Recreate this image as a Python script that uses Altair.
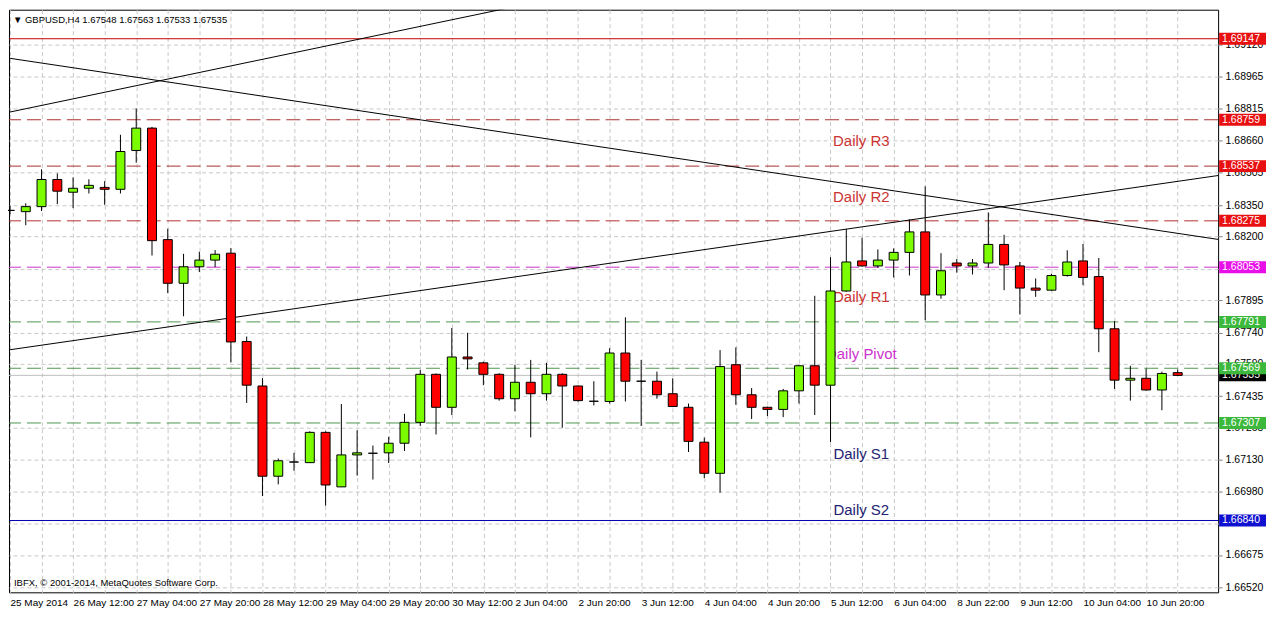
import json
import altair as alt
import pandas as pd

# ---------------- data ----------------
opens = [1.68325, 1.68319, 1.68343, 1.68473, 1.68412, 1.68431, 1.68435, 1.68426, 1.68612, 1.68719,
         1.68185, 1.67976, 1.68055, 1.68087, 1.68120, 1.67697, 1.67484, 1.67052, 1.67120, 1.67117,
         1.67262, 1.67001, 1.67154, 1.67162, 1.67164, 1.67210, 1.67310, 1.67540, 1.67382, 1.67623,
         1.67595, 1.67540, 1.67423, 1.67502, 1.67447, 1.67540, 1.67484, 1.67411, 1.67410, 1.67642,
         1.67507, 1.67507, 1.67447, 1.67382, 1.67215, 1.67066, 1.67586, 1.67442, 1.67382, 1.67372,
         1.67461, 1.67581, 1.67488, 1.67939, 1.68083, 1.68059, 1.68087, 1.68124, 1.68222, 1.67920,
         1.68073, 1.68059, 1.68073, 1.68162, 1.68059, 1.67953, 1.67943, 1.68013, 1.68083, 1.68008,
         1.67758, 1.67512, 1.67521, 1.67465, 1.67548]
highs = [1.68349, 1.68359, 1.68522, 1.68502, 1.68483, 1.68474, 1.68465, 1.68687, 1.68813, 1.68725,
         1.68237, 1.68117, 1.68127, 1.68135, 1.68144, 1.67721, 1.67522, 1.67137, 1.67164, 1.67267,
         1.67267, 1.67398, 1.67272, 1.67199, 1.67241, 1.67351, 1.67561, 1.67544, 1.67762, 1.67739,
         1.67601, 1.67545, 1.67586, 1.67609, 1.67595, 1.67545, 1.67487, 1.67507, 1.67665, 1.67813,
         1.67609, 1.67553, 1.67521, 1.67400, 1.67237, 1.67656, 1.67669, 1.67474, 1.67385, 1.67470,
         1.67585, 1.67916, 1.68101, 1.68236, 1.68194, 1.68138, 1.68143, 1.68282, 1.68440, 1.68120,
         1.68092, 1.68092, 1.68315, 1.68208, 1.68078, 1.67999, 1.68022, 1.68134, 1.68164, 1.68097,
         1.67795, 1.67581, 1.67567, 1.67553, 1.67563]
lows = [1.68307, 1.68254, 1.68322, 1.68355, 1.68336, 1.68406, 1.68352, 1.68406, 1.68553, 1.68109,
        1.67929, 1.67818, 1.68030, 1.68053, 1.67598, 1.67403, 1.66957, 1.67013, 1.67078, 1.67117,
        1.66911, 1.67001, 1.67055, 1.67036, 1.67115, 1.67173, 1.67293, 1.67252, 1.67345, 1.67563,
        1.67488, 1.67414, 1.67363, 1.67238, 1.67414, 1.67284, 1.67409, 1.67391, 1.67400, 1.67410,
        1.67293, 1.67423, 1.67383, 1.67168, 1.67043, 1.66973, 1.67394, 1.67326, 1.67340, 1.67335,
        1.67400, 1.67345, 1.67215, 1.67935, 1.68056, 1.68050, 1.68004, 1.68013, 1.67799, 1.67902,
        1.68027, 1.68018, 1.68050, 1.67943, 1.67827, 1.67911, 1.67940, 1.68008, 1.67967, 1.67646,
        1.67470, 1.67414, 1.67462, 1.67368, 1.67533]
closes = [1.68325, 1.68343, 1.68473, 1.68417, 1.68431, 1.68445, 1.68426, 1.68607, 1.68719, 1.68180,
          1.67976, 1.68055, 1.68087, 1.68115, 1.67695, 1.67488, 1.67052, 1.67126, 1.67120, 1.67262,
          1.67010, 1.67154, 1.67164, 1.67162, 1.67210, 1.67310, 1.67540, 1.67382, 1.67623, 1.67614,
          1.67540, 1.67423, 1.67502, 1.67447, 1.67540, 1.67484, 1.67414, 1.67411, 1.67642, 1.67507,
          1.67507, 1.67442, 1.67386, 1.67219, 1.67066, 1.67577, 1.67442, 1.67382, 1.67372, 1.67461,
          1.67581, 1.67488, 1.67939, 1.68078, 1.68059, 1.68087, 1.68124, 1.68222, 1.67920, 1.68036,
          1.68059, 1.68073, 1.68162, 1.68064, 1.67953, 1.67943, 1.68013, 1.68078, 1.68004, 1.67758,
          1.67512, 1.67521, 1.67465, 1.67544, 1.67535]

time_labels = ["25 May 2014", "26 May 12:00", "27 May 04:00", "27 May 20:00", "28 May 12:00",
               "29 May 04:00", "29 May 20:00", "30 May 12:00", "2 Jun 04:00", "2 Jun 20:00",
               "3 Jun 12:00", "4 Jun 04:00", "4 Jun 20:00", "5 Jun 12:00", "6 Jun 04:00",
               "8 Jun 22:00", "9 Jun 12:00", "10 Jun 04:00", "10 Jun 20:00"]

price_ticks = [1.69120, 1.68965, 1.68815, 1.68660, 1.68505, 1.68350, 1.68200, 1.68045, 1.67895,
               1.67740, 1.67590, 1.67435, 1.67285, 1.67130, 1.66980, 1.66825, 1.66675, 1.66520]
covered_ticks = ["1.68045", "1.66825"]   # hidden under the level price boxes

level_prices = [1.69147, 1.68759, 1.68537, 1.68275, 1.68053, 1.67791, 1.67569, 1.67307, 1.66840]
level_line_colors = ["#cc0000", "#a83030", "#a83030", "#b83030", "#cc33cc",
                     "#4f964f", "#4f964f", "#4f964f", "#0000b0"]
level_dashed = [False, True, True, True, True, True, True, True, False]
level_box_colors = ["#e81010", "#e81010", "#e81010", "#e81010", "#e810e8",
                    "#3cb83c", "#3cb83c", "#3cb83c", "#1010d0"]

last_price = 1.67535

pivot_names = ["Daily R3", "Daily R2", "Daily R1", "Daily Pivot", "Daily S1", "Daily S2"]
pivot_text_prices = [1.68655, 1.68390, 1.67908, 1.67638, 1.67156, 1.66891]
pivot_colors = ["#cc3333", "#cc3333", "#cc3333", "#cc33cc", "#222270", "#222270"]
pivot_text_bar = 53.95

trend_names = ["A", "A", "B", "B", "C", "C"]
trend_bars = [-0.0625, 31.5, -0.0625, 76.5625, -0.0625, 76.5625]
trend_prices = [1.68795, 1.69293, 1.69054, 1.68186, 1.67657, 1.68492]

header = "\u25bc GBPUSD,H4  1.67548 1.67563 1.67533 1.67535"
copyright_text = "IBFX, \u00a9 2001-2014, MetaQuotes Software Corp."

# ---------------- layout ----------------
W, H = 1212, 584
FONT = "Liberation Sans"
X_DOMAIN = [-0.0625, 76.5625]
Y_DOMAIN = [1.66496, 1.69286]

xs = alt.Scale(domain=X_DOMAIN, nice=False, zero=False, padding=0)
ys = alt.Scale(domain=Y_DOMAIN, nice=False, zero=False)

candles = pd.DataFrame({
    "bar": list(range(len(opens))),
    "open": opens, "high": highs, "low": lows, "close": closes,
})
candles["fill"] = [
    "#7cfc00" if c > o else ("#ff0000" if c < o else "#000000")
    for o, c in zip(opens, closes)
]

levels = pd.DataFrame({
    "price": level_prices,
    "line": level_line_colors,
    "dashed": level_dashed,
    "box": level_box_colors,
})
levels["label"] = [f"{p:.5f}" for p in level_prices]
last_df = pd.DataFrame({"price": [last_price], "box": ["#000000"], "label": [f"{last_price:.5f}"]})

pivots = pd.DataFrame({"name": pivot_names, "price": pivot_text_prices,
                       "color": pivot_colors, "bar": [pivot_text_bar] * len(pivot_names)})
trends = pd.DataFrame({"name": trend_names, "bar": trend_bars, "price": trend_prices})

label_arr = json.dumps(time_labels)
covered_arr = json.dumps(covered_ticks)
x_axis = alt.Axis(
    values=list(range(0, 76, 2)),
    labelExpr=f"datum.value % 4 == 0 ? {label_arr}[datum.value / 4] : ''",
    grid=True, gridDash=[4, 3], gridColor="#c8c8c8", gridWidth=1,
    domain=False, ticks=False, labelAlign="left", labelPadding=5,
    labelFont=FONT, labelFontSize=10, labelColor="#000000",
    labelOverlap=False, labelFlush=False, title=None,
)
y_axis = alt.Axis(
    orient="right", values=price_ticks,
    labelExpr=f"indexof({covered_arr}, format(datum.value, '.5f')) >= 0 ? '' : format(datum.value, '.5f')",
    grid=True, gridDash=[4, 3], gridColor="#c8c8c8", gridWidth=1,
    domain=False, tickSize=4, tickColor="#808080", labelPadding=3,
    labelFont=FONT, labelFontSize=10.5, labelColor="#000000",
    labelOverlap=False, labelFlush=False, title=None,
)


def X(field):
    return alt.X(field, type="quantitative", scale=xs, axis=x_axis)


def Y(field):
    return alt.Y(field, type="quantitative", scale=ys, axis=y_axis)


# invisible layer that carries both axes
base_axes = alt.Chart(candles).mark_rule(opacity=0).encode(x=X("bar"), y=Y("low"), y2="high")

solid_levels = alt.Chart(levels[~levels["dashed"]]).mark_rule(strokeWidth=1).encode(
    y=Y("price"), color=alt.Color("line:N", scale=None))
dashed_levels = alt.Chart(levels[levels["dashed"]]).mark_rule(strokeWidth=1, strokeDash=[14, 6]).encode(
    y=Y("price"), color=alt.Color("line:N", scale=None))
last_line = alt.Chart(last_df).mark_rule(strokeWidth=1, color="#c0c0c0").encode(y=Y("price"))

trend_layer = alt.Chart(trends).mark_line(color="#000000", strokeWidth=1, clip=True).encode(
    x=X("bar"), y=Y("price"), detail="name:N")

pivot_layer = alt.Chart(pivots).mark_text(
    align="center", baseline="middle", font=FONT, fontSize=15).encode(
    x=X("bar"), y=Y("price"), text="name:N", color=alt.Color("color:N", scale=None))

wicks = alt.Chart(candles).mark_rule(color="#000000", strokeWidth=1).encode(
    x=X("bar"), y=Y("low"), y2="high")
bodies = alt.Chart(candles).mark_bar(size=9, stroke="#000000", strokeWidth=1).encode(
    x=X("bar"), y=Y("open"), y2="close", fill=alt.Fill("fill:N", scale=None))

header_layer = alt.Chart(pd.DataFrame({"t": [header]})).mark_text(
    align="left", baseline="middle", font=FONT, fontSize=9.5, color="#000000").encode(
    x=alt.value(4), y=alt.value(10), text="t:N")
copy_layer = alt.Chart(pd.DataFrame({"t": [copyright_text]})).mark_text(
    align="left", baseline="middle", font=FONT, fontSize=9.5, color="#000000").encode(
    x=alt.value(5), y=alt.value(H - 9), text="t:N")


def box_layers(df):
    box = alt.Chart(df).mark_tick(orient="horizontal", size=47, thickness=12, opacity=1).encode(
        x=alt.value(W + 24.5), y=Y("price"), color=alt.Color("box:N", scale=None))
    txt = alt.Chart(df).mark_text(
        align="left", baseline="middle", font=FONT, fontSize=10.5, color="#ffffff").encode(
        x=alt.value(W + 4), y=Y("price"), text="label:N")
    return [box, txt]


chart = alt.layer(
    base_axes, solid_levels, dashed_levels, last_line, trend_layer, pivot_layer,
    wicks, bodies, header_layer, copy_layer,
    *box_layers(last_df), *box_layers(levels[["price", "box", "label"]]),
).properties(
    width=W, height=H, background="#ffffff",
    autosize=alt.AutoSizeParams(type="none"),
    padding={"left": 1, "top": 1, "right": 50, "bottom": 18},
).configure_view(stroke="#000000", strokeWidth=1)

chart.save("out.html", embed_options={"renderer": "svg", "actions": False})
